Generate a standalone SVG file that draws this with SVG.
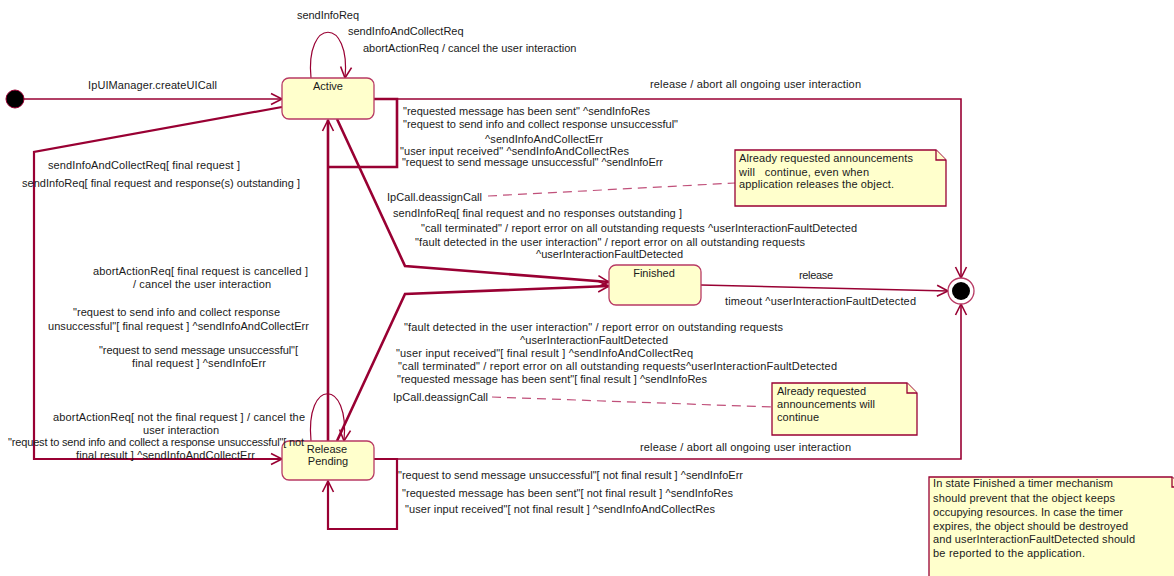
<svg xmlns="http://www.w3.org/2000/svg" width="1174" height="576" viewBox="0 0 1174 576">
<defs>
<style>
.st{fill:#ffffcc;stroke:#b83a64;stroke-width:1.3}
.nt{fill:#ffffcc;stroke:#990033;stroke-width:1.3}
.c{fill:none;stroke:#990033;stroke-linejoin:miter}
.w1{stroke-width:1.2}
.w15{stroke-width:1.6}
.w2{stroke-width:2.2}
.w25{stroke-width:2.6}
.dash{fill:none;stroke:#c0507a;stroke-width:1.2;stroke-dasharray:9 6}
text{font-family:"Liberation Sans",Arial,sans-serif;font-size:11px;fill:#1a1a1a;white-space:pre}
.ctr{text-anchor:middle}
</style>
<marker id="ar" markerUnits="userSpaceOnUse" markerWidth="14" markerHeight="14" viewBox="0 0 14 14" refX="12" refY="7" orient="auto">
<path d="M1,1.5 L12,7 L1,12.5" fill="none" stroke="#990033" stroke-width="1.6"/>
</marker>
</defs>

<g id="connectors">
<path class="c w15" d="M24,99 H282" marker-end="url(#ar)"/>
<path class="c w1" d="M311,78 C305,17 351,17 345,78" marker-end="url(#ar)"/>
<path class="c w25" d="M374,99 H397 V167 H328"/>
<path class="c w25" d="M328,441 V120" marker-end="url(#ar)"/>
<path class="c w15" d="M374,99 H961 V278" marker-end="url(#ar)"/>
<path class="c w2" d="M282,107 L34,152 V459 H282" marker-end="url(#ar)"/>
<path class="c w25" d="M337,119 L405,266 L609,282" marker-end="url(#ar)"/>
<path class="c w25" d="M337,441 L405,294 L609,286" marker-end="url(#ar)"/>
<path class="c w15" d="M701,285 L948,291" marker-end="url(#ar)"/>
<path class="c w15" d="M374,459 H961 V304" marker-end="url(#ar)"/>
<path class="c w1" d="M311,441 C305,378 350,378 344,441" marker-end="url(#ar)"/>
<path class="c w2" d="M374,459 H397 V529 H328 V481" marker-end="url(#ar)"/>
<path class="dash" d="M488,196 L735,183"/>
<path class="dash" d="M492,397 L772,407"/>
</g>

<g id="initial">
<circle cx="15" cy="99" r="9" fill="#000" stroke="#990033" stroke-width="1"/>
</g>

<g id="final">
<circle cx="961" cy="291" r="13" fill="#fff" stroke="#b83a64" stroke-width="1.3"/>
<circle cx="961" cy="291" r="9" fill="#000"/>
</g>

<g id="active">
<rect class="st" x="282" y="78" width="92" height="41" rx="7"/>
<text class="ctr" x="328" y="90">Active</text>
</g>

<g id="finished">
<rect class="st" x="609" y="265" width="92" height="40" rx="7"/>
<text class="ctr" x="654" y="277">Finished</text>
</g>

<g id="releasePending">
<rect class="st" x="282" y="441" width="92" height="39" rx="7"/>
<text class="ctr" x="327" y="453">Release</text>
<text class="ctr" x="328" y="465">Pending</text>
</g>

<g id="note1">
<path class="nt" d="M735,150 H936 L946,160 V206 H735 Z"/>
<path class="nt" d="M936,150 V160 H946"/>
<text x="739" y="162" textLength="174">Already requested announcements</text>
<text x="739" y="176" textLength="130">will   continue, even when</text>
<text x="739" y="188" textLength="155">application releases the object.</text>
</g>

<g id="note2">
<path class="nt" d="M772,383 H907 L917,393 V435 H772 Z"/>
<path class="nt" d="M907,383 V393 H917"/>
<text x="777" y="395" textLength="89">Already requested</text>
<text x="777" y="408" textLength="98">announcements will</text>
<text x="777" y="421" textLength="42">continue</text>
</g>

<g id="note3">
<path class="nt" d="M929,477 H1172 L1182,487 V590 H929 Z"/>
<path class="nt" d="M1172,477 V487 H1182"/>
<text x="933" y="487" textLength="180">In state Finished a timer mechanism</text>
<text x="933" y="502" textLength="182">should prevent that the object keeps</text>
<text x="933" y="516" textLength="190">occupying resources. In case the timer</text>
<text x="933" y="530" textLength="195">expires, the object should be destroyed</text>
<text x="933" y="543" textLength="202">and userInteractionFaultDetected should</text>
<text x="933" y="557" textLength="152">be reported to the application.</text>
</g>

<g id="labels">
<text x="297" y="19" textLength="62">sendInfoReq</text>
<text x="348" y="35">sendInfoAndCollectReq</text>
<text x="363" y="52">abortActionReq / cancel the user interaction</text>
<text x="88" y="89" textLength="129">IpUIManager.createUICall</text>
<text x="650" y="88" textLength="211">release / abort all ongoing user interaction</text>
<text x="403" y="115" textLength="247">"requested message has been sent" ^sendInfoRes</text>
<text x="403" y="128" textLength="275">"request to send info and collect response unsuccessful"</text>
<text x="485" y="143" textLength="118">^sendInfoAndCollectErr</text>
<text x="400" y="155" textLength="229">"user input received" ^sendInfoAndCollectRes</text>
<text x="402" y="166" textLength="261">"request to send message unsuccessful" ^sendInfoErr</text>
<text x="48" y="169" textLength="192">sendInfoAndCollectReq[ final request ]</text>
<text x="22" y="187" textLength="278">sendInfoReq[ final request and response(s) outstanding ]</text>
<text x="387" y="201" textLength="95">IpCall.deassignCall</text>
<text x="393" y="217" textLength="289">sendInfoReq[ final request and no responses outstanding ]</text>
<text x="421" y="232" textLength="436">"call terminated" / report error on all outstanding requests ^userInteractionFaultDetected</text>
<text x="415" y="246" textLength="390">"fault detected in the user interaction" / report error on all outstanding requests</text>
<text x="536" y="258" textLength="147">^userInteractionFaultDetected</text>
<text x="93" y="275" textLength="215">abortActionReq[ final request is cancelled ]</text>
<text x="133" y="288" textLength="138">/ cancel the user interaction</text>
<text x="799" y="279" textLength="34">release</text>
<text x="725" y="305" textLength="191">timeout ^userInteractionFaultDetected</text>
<text x="73" y="316" textLength="207">"request to send info and collect response</text>
<text x="48" y="330" textLength="261">unsuccessful"[ final request ] ^sendInfoAndCollectErr</text>
<text x="404" y="331" textLength="379">"fault detected in the user interaction" / report error on outstanding requests</text>
<text x="520" y="344" textLength="148">^userInteractionFaultDetected</text>
<text x="99" y="354" textLength="199">"request to send message unsuccessful"[</text>
<text x="396" y="357" textLength="297">"user input received"[ final result ] ^sendInfoAndCollectReq</text>
<text x="132" y="367" textLength="134">final request ] ^sendInfoErr</text>
<text x="398" y="370" textLength="439">"call terminated" / report error on all outstanding requests^userInteractionFaultDetected</text>
<text x="397" y="383" textLength="310">"requested message has been sent"[ final result ] ^sendInfoRes</text>
<text x="393" y="401" textLength="95">IpCall.deassignCall</text>
<text x="53" y="421" textLength="252">abortActionReq[ not the final request ] / cancel the</text>
<text x="143" y="434" textLength="76">user interaction</text>
<text x="8" y="446" textLength="296">"request to send info and collect a response unsuccessful"[ not</text>
<text x="76" y="459" textLength="179">final result ] ^sendInfoAndCollectErr</text>
<text x="640" y="451" textLength="211">release / abort all ongoing user interaction</text>
<text x="398" y="479" textLength="345">"request to send message unsuccessful"[ not final result ] ^sendInfoErr</text>
<text x="402" y="497" textLength="331">"requested message has been sent"[ not final result ] ^sendInfoRes</text>
<text x="405" y="513" textLength="310">"user input received"[ not final result ] ^sendInfoAndCollectRes</text>
</g>
</svg>
